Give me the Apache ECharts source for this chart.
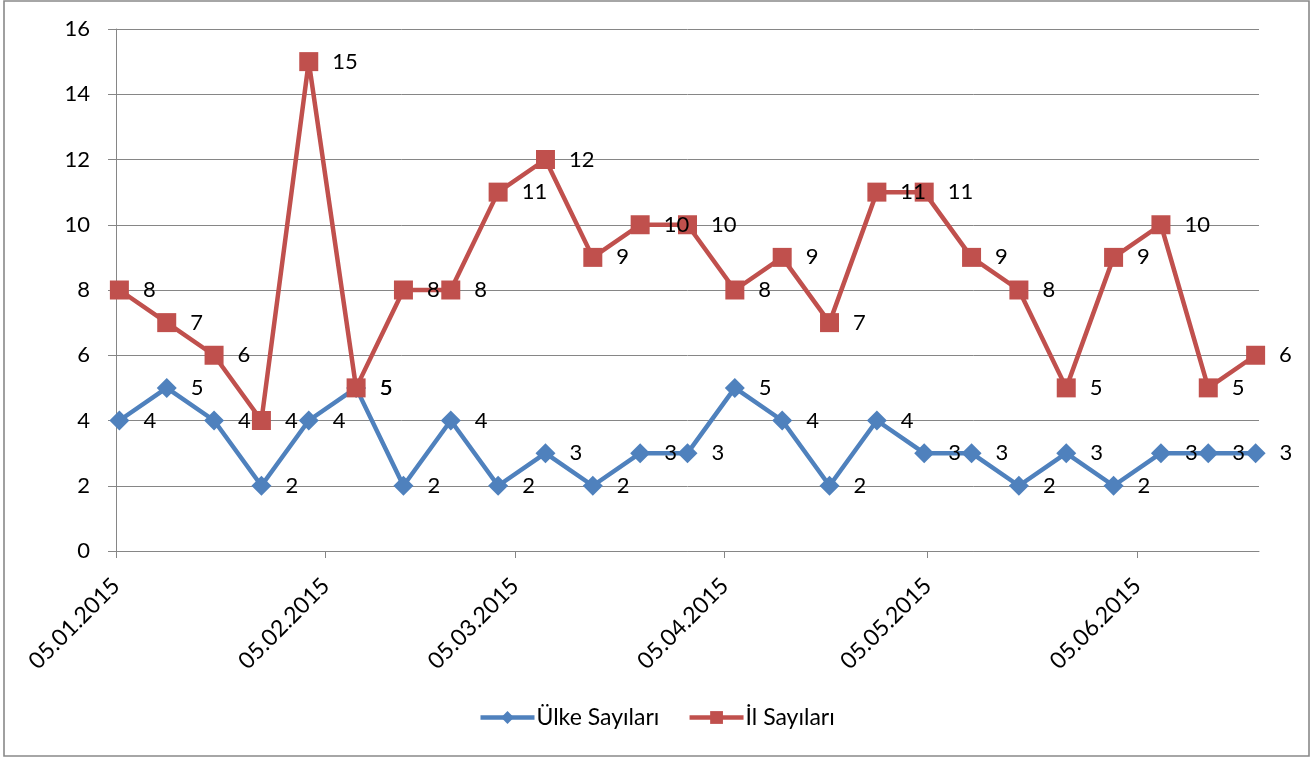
<!DOCTYPE html>
<html>
<head>
<meta charset="utf-8">
<script src="https://cdn.jsdelivr.net/npm/echarts@6/dist/echarts.min.js"></script>
<style>
html,body{margin:0;padding:0;background:#fff;}
#chart{width:1313px;height:758px;}
</style>
</head>
<body>
<div id="chart"></div>
<script>
const dates = ['05.01.2015','12.01.2015','19.01.2015','26.01.2015','02.02.2015','09.02.2015','16.02.2015','23.02.2015','02.03.2015','09.03.2015','16.03.2015','23.03.2015','30.03.2015','06.04.2015','13.04.2015','20.04.2015','27.04.2015','04.05.2015','11.05.2015','18.05.2015','25.05.2015','01.06.2015','08.06.2015','15.06.2015','22.06.2015'];
const ulkeSayilari = [4,5,4,2,4,5,2,4,2,3,2,3,3,5,4,2,4,3,3,2,3,2,3,3,3];
const ilSayilari = [8,7,6,4,15,5,8,8,11,12,9,10,10,8,9,7,11,11,9,8,5,9,10,5,6];
const tickLabels = ['05.01.2015','05.02.2015','05.03.2015','05.04.2015','05.05.2015','05.06.2015'];
const axisStart = '05.01.2015';
const axisEnd = '23.06.2015';

function toUTC(s){const p=s.split('.');return Date.UTC(+p[2],+p[1]-1,+p[0]);}
const DAY = 86400000;
const t0 = toUTC(axisStart);
function dayOf(s){return Math.round((toUTC(s)-t0)/DAY);}
const tickDays = tickLabels.map(dayOf);
const labelByDay = {};
tickLabels.forEach((l,i)=>{labelByDay[tickDays[i]]=l;});
const xs = dates.map(d=>dayOf(d)+0.5);

const FONT = 'Lato';
const chart = echarts.init(document.getElementById('chart'));
const lbl = {show:true, position:'right', distance:14, color:'#000', fontFamily:FONT, fontSize:22};
chart.setOption({
  animation:false,
  backgroundColor:'#fff',
  graphic:[{type:'rect', shape:{x:4,y:1,width:1305,height:755}, style:{fill:'none', stroke:'#898989', lineWidth:1.6}, z:-1}],
  grid:{left:116, top:29, right:54, bottom:207},
  legend:{
    bottom:24, left:'center', itemWidth:54, itemHeight:16, itemGap:28,
    lineStyle:{width:4.5},
    textStyle:{fontFamily:FONT, fontSize:23, color:'#000', padding:[0,0,0,-3]},
    data:['Ülke Sayıları','İl Sayıları']
  },
  xAxis:{
    type:'value', min:0, max:dayOf(axisEnd),
    axisLine:{lineStyle:{color:'#868686', width:1}},
    axisTick:{show:true, customValues:tickDays, length:7, lineStyle:{color:'#868686'}},
    axisLabel:{customValues:tickDays, rotate:45, margin:31, fontFamily:FONT, fontSize:23, color:'#000',
      formatter:v=>labelByDay[Math.round(v)]||''},
    splitLine:{show:false}
  },
  yAxis:{
    type:'value', min:0, max:16, interval:2,
    axisLine:{show:true, lineStyle:{color:'#868686', width:1}},
    axisTick:{show:true, length:8, lineStyle:{color:'#868686'}},
    axisLabel:{margin:26, fontFamily:FONT, fontSize:22, color:'#000'},
    splitLine:{lineStyle:{color:'#868686', width:1}}
  },
  series:[
    {name:'Ülke Sayıları', type:'line', data:xs.map((x,i)=>[x,ulkeSayilari[i]]),
     symbol:'diamond', symbolSize:20, lineStyle:{color:'#4F81BD', width:4.5}, itemStyle:{color:'#4F81BD'},
     label:lbl, z:2},
    {name:'İl Sayıları', type:'line', data:xs.map((x,i)=>[x,ilSayilari[i]]),
     symbol:'rect', symbolSize:19, lineStyle:{color:'#C0504D', width:4.5}, itemStyle:{color:'#C0504D'},
     label:lbl, z:3}
  ]
});
</script>
</body>
</html>
